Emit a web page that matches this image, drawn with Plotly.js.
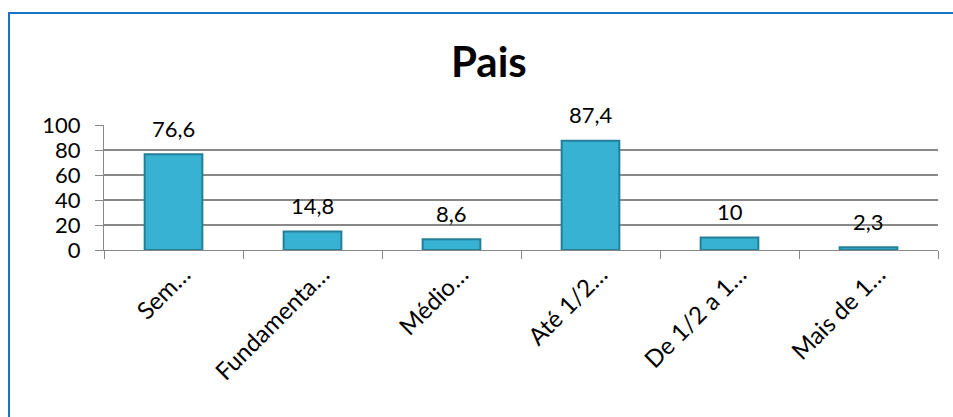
<!DOCTYPE html>
<html>
<head>
<meta charset="utf-8">
<script src="https://cdn.plot.ly/plotly-3.0.1.min.js"></script>
<style>
  html, body { margin: 0; padding: 0; background: #fff; overflow: hidden; }
  #wrap { position: relative; width: 953px; height: 417px; overflow: hidden; }
  #chart { position: absolute; left: 0; top: 0; width: 953px; height: 417px; }
  #frame { position: absolute; left: 8px; top: 12px; width: 1000px; height: 500px;
           border-left: 2.5px solid #1a74c6; border-top: 2.5px solid #1a74c6;
           pointer-events: none; }
</style>
</head>
<body>
<div id="wrap">
  <div id="chart"></div>
  <div id="frame"></div>
</div>
<script>
const categories = ['Sem…', 'Fundamenta…', 'Médio…', 'Até 1/2…', 'De 1/2 a 1…', 'Mais de 1…'];
const values = [76.6, 14.8, 8.6, 87.4, 10, 2.3];
const valueLabels = ['76,6', '14,8', '8,6', '87,4', '10', '2,3'];
const yTicks = [0, 20, 40, 60, 80, 100];

const FONT = 'Lato, "Open Sans", sans-serif';

const trace = {
  type: 'bar',
  x: categories,
  y: values,
  marker: { color: '#38b2d3', line: { color: '#237f99', width: 2 } },
  hoverinfo: 'skip'
};

const annotations = categories.map((c, i) => ({
  x: c, y: values[i], xref: 'x', yref: 'y',
  text: valueLabels[i], showarrow: false,
  yanchor: 'middle', yshift: 26,
  font: { family: FONT, size: 22, color: '#000' }
}));

const layout = {
  width: 953, height: 417,
  margin: { l: 104, r: 15, t: 125, b: 167, pad: 0 },
  paper_bgcolor: '#fff', plot_bgcolor: '#fff',
  font: { family: FONT, color: '#000' },
  showlegend: false,
  bargap: 0.585,
  title: {
    text: '<b>Pais</b>',
    font: { family: FONT, size: 42, color: '#000' },
    xref: 'container', yref: 'container',
    x: 0.513, xanchor: 'center', y: 0.85, yanchor: 'middle'
  },
  xaxis: {
    type: 'category',
    tickson: 'boundaries',
    ticks: 'outside', ticklen: 8, tickcolor: '#888', tickwidth: 1,
    showline: true, linecolor: '#888', linewidth: 1,
    showgrid: false, zeroline: false,
    tickangle: -45,
    tickfont: { family: FONT, size: 24, color: '#000' },
    ticklabelstandoff: 0,
    ticklabelshift: 10
  },
  yaxis: {
    range: [0, 100],
    tickvals: yTicks,
    ticktext: yTicks.map(String),
    ticks: 'outside', ticklen: 8, tickcolor: '#888', tickwidth: 1,
    showline: true, linecolor: '#888', linewidth: 1,
    showgrid: true, gridcolor: '#888', gridwidth: 1.2,
    zeroline: false,
    tickfont: { family: FONT, size: 22, color: '#000' },
    ticklabelstandoff: 10
  },
  annotations: annotations
};

Plotly.newPlot('chart', [trace], layout, { staticPlot: true, displayModeBar: false });
</script>
</body>
</html>
